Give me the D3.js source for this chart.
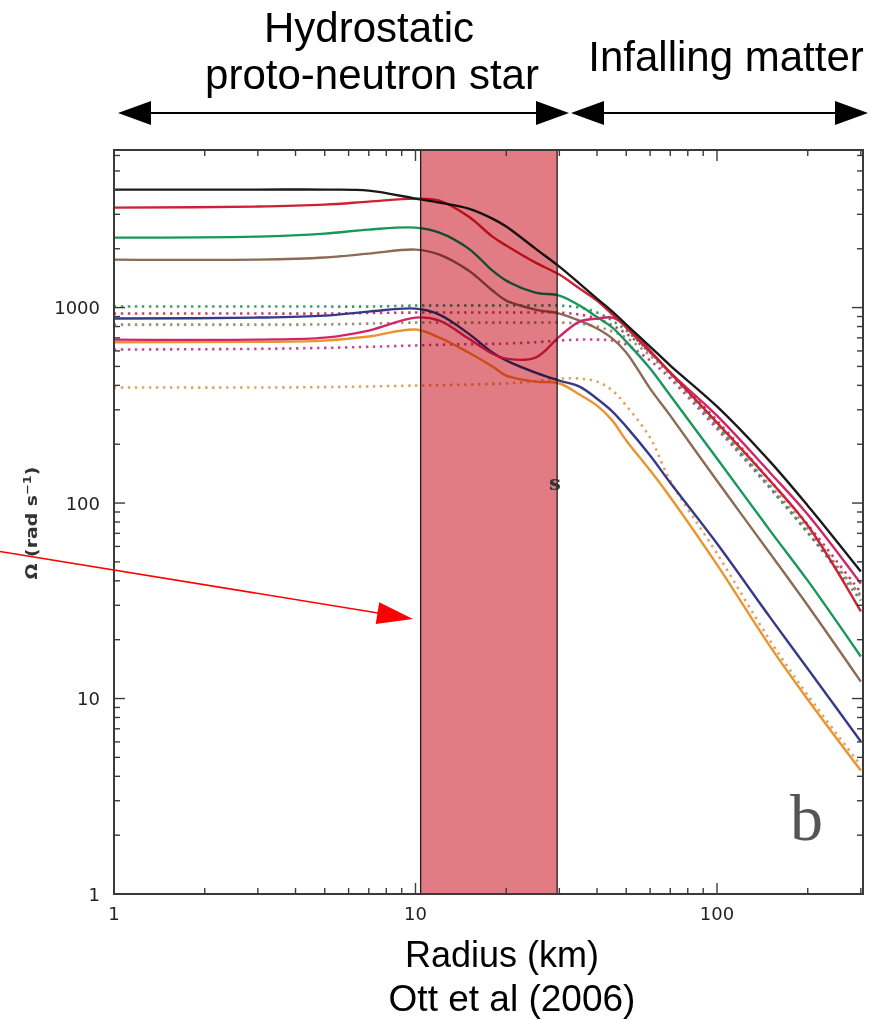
<!DOCTYPE html>
<html>
<head>
<meta charset="utf-8">
<script src="https://cdn.jsdelivr.net/npm/d3@7"></script>
<style>
  html, body { margin: 0; padding: 0; background: #fff; }
  svg { display: block; }
</style>
</head>
<body>
<svg id="chart" width="869" height="1020"></svg>
<script>
// Radius samples (km) shared by every profile
const radius = [1, 3, 5, 7, 10, 12, 15, 18, 20, 25, 30, 35, 40, 45, 50, 60, 70, 100, 150, 200, 300];

// Angular velocity profiles, Omega in rad/s
const omegaBlack  = [4015, 4015, 4015, 3967, 3611, 3444, 3209, 2852, 2597, 2003, 1621, 1327, 1112, 954, 819, 632, 505, 312, 163, 97, 44.6];
const omegaRed    = [3248, 3287, 3365, 3485, 3611, 3526, 2921, 2307, 2076, 1699, 1475, 1251, 1086, 921, 790, 595, 465, 258, 130, 76.7, 27.9];
const omegaGreen  = [2281, 2308, 2390, 2506, 2566, 2418, 2003, 1546, 1374, 1193, 1152, 1024, 894, 790, 670, 488, 355, 169, 72.3, 40.1, 16.4];
const omegaBrown  = [1760, 1760, 1803, 1889, 1980, 1867, 1546, 1222, 1086, 977, 932, 858, 781, 694, 589, 385, 280, 130, 55.2, 29.9, 12.2];
const omegaNavy   = [879, 889, 910, 954, 988, 921, 736, 589, 536, 465, 423, 394, 342, 294, 246, 175, 127, 62.1, 26.0, 14.2, 6.03];
const omegaPink   = [686, 686, 702, 763, 889, 858, 694, 581, 548, 555, 710, 848, 878, 889, 809, 603, 465, 280, 143, 87.3, 38.7];
const omegaOrange = [665, 668, 678, 711, 772, 702, 589, 499, 449, 418, 409, 359, 315, 264, 209, 147, 107, 48.4, 18.5, 9.89, 4.28];

// Dotted companion profiles
const omegaGreenDot  = [1012, 1012, 1012, 1012, 1024, 1024, 1024, 1024, 1024, 1024, 1024, 1000, 943, 858, 763, 589, 460, 249, 120, 70.6, 31.7];
const omegaRedDot    = [932, 932, 932, 938, 943, 943, 943, 943, 943, 943, 943, 921, 878, 809, 736, 589, 465, 264, 130, 77.5, 34.9];
const omegaOliveDot  = [818, 818, 820, 828, 838, 838, 838, 838, 838, 838, 838, 828, 800, 754, 702, 568, 449, 249, 123, 74, 33];
const omegaPinkDot   = [610, 615, 622, 630, 640, 645, 650, 652, 655, 665, 678, 686, 686, 678, 647, 536, 433, 240, 119, 70.6, 33.6];
const omegaOrangeDot = [390, 390, 392, 395, 399, 401, 404, 407, 409, 420, 433, 433, 418, 376, 315, 216, 130, 55.2, 19.8, 10.4, 4.54];

// Axis tick labels
const xTickLabels = [1, 10, 100];
const yTickLabels = [1, 10, 100, 1000];

// Shaded radius range of the proto-neutron star surface region (km)
const bandRange = [10.4, 29.5];

const solidSeries = [
  { values: omegaOrange, color: "#e8952f" },
  { values: omegaNavy,   color: "#363a86" },
  { values: omegaBrown,  color: "#8b6b55" },
  { values: omegaGreen,  color: "#16985a" },
  { values: omegaPink,   color: "#d22468" },
  { values: omegaRed,    color: "#cc2233" },
  { values: omegaBlack,  color: "#1a1a1a" }
];
const dottedSeries = [
  { values: omegaOrangeDot, color: "#e2a262" },
  { values: omegaPinkDot,   color: "#c2489a" },
  { values: omegaOliveDot,  color: "#a08e70" },
  { values: omegaRedDot,    color: "#c8406a" },
  { values: omegaGreenDot,  color: "#3c9c6c" }
];

const svg = d3.select("#chart");
const plot = { left: 114, right: 863, top: 150, bottom: 894 };

const x = d3.scaleLog().domain([1, 305]).range([plot.left, plot.right]);
const y = d3.scaleLog().domain([1, 6400]).range([plot.bottom, plot.top]);

svg.append("rect").attr("width", 869).attr("height", 1020).attr("fill", "#fff");

svg.append("defs").append("clipPath").attr("id", "plotClip")
  .append("rect")
  .attr("x", plot.left).attr("y", plot.top)
  .attr("width", plot.right - plot.left).attr("height", plot.bottom - plot.top);

const line = d3.line()
  .x((d, i) => x(radius[i]))
  .y(d => y(d))
  .curve(d3.curveCatmullRom.alpha(0.5));

const curves = svg.append("g").attr("clip-path", "url(#plotClip)");

curves.selectAll("path.dotted")
  .data(dottedSeries)
  .join("path")
  .attr("class", "dotted")
  .attr("d", d => line(d.values))
  .attr("fill", "none")
  .attr("stroke", d => d.color)
  .attr("stroke-width", 2.6)
  .attr("stroke-dasharray", "2.4 4.6");

curves.selectAll("path.solid")
  .data(solidSeries)
  .join("path")
  .attr("class", "solid")
  .attr("d", d => line(d.values))
  .attr("fill", "none")
  .attr("stroke", d => d.color)
  .attr("stroke-width", 2.4)
  .attr("stroke-linejoin", "round");

// Shaded band, multiplied over the curves beneath it
svg.append("rect")
  .attr("x", x(bandRange[0]))
  .attr("y", plot.top)
  .attr("width", x(bandRange[1]) - x(bandRange[0]))
  .attr("height", plot.bottom - plot.top)
  .attr("fill", "#e27c84")
  .style("mix-blend-mode", "multiply");
svg.append("rect")
  .attr("x", x(bandRange[0]))
  .attr("y", plot.top)
  .attr("width", x(bandRange[1]) - x(bandRange[0]))
  .attr("height", plot.bottom - plot.top)
  .attr("fill", "none")
  .attr("stroke", "#2a1a1a")
  .attr("stroke-width", 1.3);

// Frame
svg.append("rect")
  .attr("x", plot.left).attr("y", plot.top)
  .attr("width", plot.right - plot.left).attr("height", plot.bottom - plot.top)
  .attr("fill", "none")
  .attr("stroke", "#3a3a3a")
  .attr("stroke-width", 2);

const isMajor = v => Math.abs(Math.log10(v) - Math.round(Math.log10(v))) < 1e-9;
const ticks = svg.append("g").attr("stroke", "#3a3a3a").attr("stroke-width", 1.4);

x.ticks().forEach(v => {
  const px = x(v);
  const len = isMajor(v) ? 11 : 6;
  ticks.append("line").attr("x1", px).attr("x2", px).attr("y1", plot.bottom).attr("y2", plot.bottom - len);
  ticks.append("line").attr("x1", px).attr("x2", px).attr("y1", plot.top).attr("y2", plot.top + len);
});
y.ticks().forEach(v => {
  const py = y(v);
  const len = isMajor(v) ? 11 : 6;
  ticks.append("line").attr("y1", py).attr("y2", py).attr("x1", plot.left).attr("x2", plot.left + len);
  ticks.append("line").attr("y1", py).attr("y2", py).attr("x1", plot.right).attr("x2", plot.right - len);
});

const tickFont = "'DejaVu Sans', sans-serif";
svg.append("g").selectAll("text")
  .data(xTickLabels)
  .join("text")
  .attr("x", d => x(d))
  .attr("y", 920)
  .attr("text-anchor", "middle")
  .attr("font-family", tickFont)
  .attr("font-size", 18)
  .attr("fill", "#222")
  .text(d => d);

svg.append("g").selectAll("text")
  .data(yTickLabels)
  .join("text")
  .attr("x", 100)
  .attr("y", d => y(d) + 6.5)
  .attr("text-anchor", "end")
  .attr("font-family", tickFont)
  .attr("font-size", 18)
  .attr("fill", "#222")
  .text(d => d);

// Y axis title
const yTitle = svg.append("text")
  .attr("transform", "translate(37,523) rotate(-90)")
  .attr("text-anchor", "middle")
  .attr("font-family", tickFont)
  .attr("font-weight", "bold")
  .attr("font-size", 16)
  .attr("fill", "#333")
  .attr("textLength", 113)
  .attr("lengthAdjust", "spacingAndGlyphs");
yTitle.append("tspan").text("Ω (rad s");
yTitle.append("tspan").attr("dy", -6).attr("font-size", 11).text("−1");
yTitle.append("tspan").attr("dy", 6).text(")");

// Panel markers
svg.append("text")
  .attr("x", 549).attr("y", 490)
  .attr("font-family", "'DejaVu Serif', serif")
  .attr("font-weight", "bold")
  .attr("font-size", 21)
  .attr("fill", "#333")
  .text("s");
svg.append("text")
  .attr("x", 790).attr("y", 840)
  .attr("font-family", "'Liberation Serif', serif")
  .attr("font-size", 66)
  .attr("fill", "#555")
  .text("b");

// Region labels with double arrows
const sansFont = "'Liberation Sans', Arial, sans-serif";
svg.append("text").attr("x", 369).attr("y", 42).attr("text-anchor", "middle")
  .attr("font-family", sansFont).attr("font-size", 42).attr("fill", "#000").text("Hydrostatic");
svg.append("text").attr("x", 372).attr("y", 89).attr("text-anchor", "middle")
  .attr("font-family", sansFont).attr("font-size", 42).attr("fill", "#000").text("proto-neutron star");
svg.append("text").attr("x", 726).attr("y", 71).attr("text-anchor", "middle")
  .attr("font-family", sansFont).attr("font-size", 42).attr("fill", "#000").text("Infalling matter");

function doubleArrow(x0, x1, yy) {
  const hl = 33, hw = 12;
  svg.append("line").attr("x1", x0 + hl - 2).attr("x2", x1 - hl + 2).attr("y1", yy).attr("y2", yy)
    .attr("stroke", "#000").attr("stroke-width", 2);
  svg.append("polygon").attr("points", `${x0},${yy} ${x0 + hl},${yy - hw} ${x0 + hl},${yy + hw}`).attr("fill", "#000");
  svg.append("polygon").attr("points", `${x1},${yy} ${x1 - hl},${yy - hw} ${x1 - hl},${yy + hw}`).attr("fill", "#000");
}
doubleArrow(118, 569, 113);
doubleArrow(571, 868, 113);

// Red pointer arrow into the band
(function () {
  const sx = 0, sy = 551.5, tx = 413, ty = 619;
  const ang = Math.atan2(ty - sy, tx - sx);
  const hl = 36, hw = 11;
  const bx = tx - hl * Math.cos(ang), by = ty - hl * Math.sin(ang);
  const px = -Math.sin(ang) * hw, py = Math.cos(ang) * hw;
  svg.append("line").attr("x1", sx).attr("y1", sy).attr("x2", bx + 2).attr("y2", by)
    .attr("stroke", "#ff0000").attr("stroke-width", 1.5);
  svg.append("polygon")
    .attr("points", `${tx},${ty} ${bx + px},${by + py} ${bx - px},${by - py}`)
    .attr("fill", "#ff0000");
})();

// Axis title and citation
svg.append("text").attr("x", 502).attr("y", 967).attr("text-anchor", "middle")
  .attr("font-family", sansFont).attr("font-size", 36).attr("fill", "#000").text("Radius (km)");
svg.append("text").attr("x", 512).attr("y", 1011).attr("text-anchor", "middle")
  .attr("font-family", sansFont).attr("font-size", 37).attr("fill", "#000").text("Ott et al (2006)");
</script>
</body>
</html>
